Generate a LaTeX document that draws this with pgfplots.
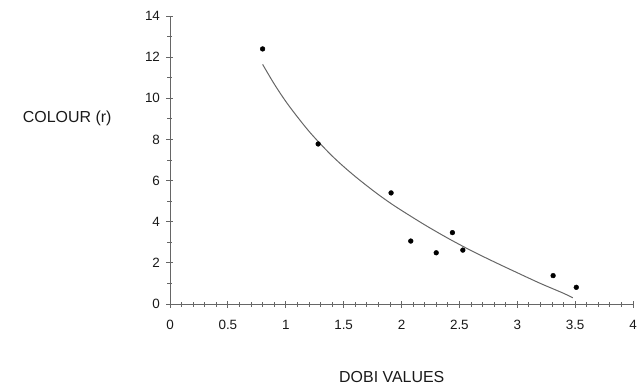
\documentclass[border=0pt]{standalone}
\usepackage{fontspec}
\setmainfont{Liberation Sans}
\usepackage{pgfplots}
\pgfplotsset{compat=1.18}
\begin{document}
\begin{tikzpicture}
\useasboundingbox (-170bp,-86bp) rectangle (467bp,304bp);
\begin{axis}[
  scale only axis,
  width=463bp, height=288bp,
  at={(0,0)}, anchor=south west,
  xmin=0, xmax=4, ymin=0, ymax=14,
  axis lines=left,
  axis line style={-, black!60, line width=0.9pt},
  xtick={0,0.5,...,4},
  ytick={0,2,...,14},
  minor x tick num=4,
  minor y tick num=1,
  tick align=center,
  major tick length=7bp,
  minor tick length=5bp,
  tick style={black!60, line width=0.8pt},
  /pgf/number format/assume math mode=true,
  ticklabel style={font=\fontsize{13.5}{15}\selectfont, text=black!90},
  xticklabel style={yshift=-9bp},
  yticklabel style={xshift=-3bp},
  xlabel={DOBI VALUES},
  ylabel={COLOUR (r)},
  label style={font=\fontsize{16}{18}\selectfont, text=black!90},
  xlabel style={at={(rel axis cs:0.479,-0.253)}, anchor=center},
  ylabel style={rotate=-90, at={(rel axis cs:-0.222,0.646)}, anchor=center},
  clip=false,
]
\addplot[black!60, line width=1pt, smooth] coordinates {
 (0.8,11.65) (0.9,10.7) (1.0,9.85) (1.1,9.1) (1.2,8.4) (1.3,7.78)
 (1.4,7.2) (1.5,6.68) (1.6,6.2) (1.7,5.75) (1.8,5.32) (1.9,4.92)
 (2.0,4.55) (2.2,3.85) (2.4,3.2) (2.6,2.6) (2.8,2.05) (3.0,1.52)
 (3.2,1.0) (3.4,0.52) (3.48,0.3)
};
\addplot[only marks, mark=*, mark size=2.4bp, black] coordinates {
 (0.80,12.4) (1.28,7.78) (1.91,5.4) (2.08,3.06) (2.30,2.49)
 (2.44,3.47) (2.53,2.62) (3.31,1.38) (3.51,0.81)
};
\end{axis}
\end{tikzpicture}
\end{document}
